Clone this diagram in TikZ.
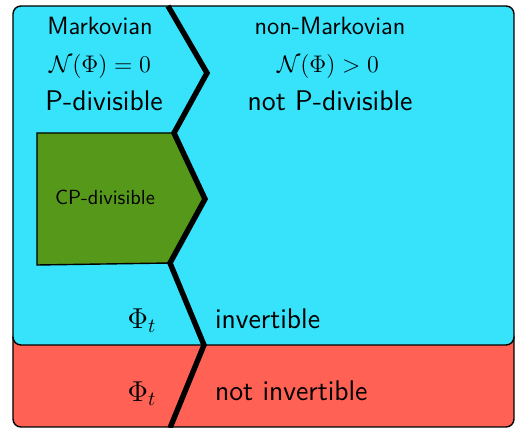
\documentclass[tikz,border=0pt]{standalone}
\usepackage{amsmath,amssymb}
\usepackage{tikz}
\usetikzlibrary{calc}

\definecolor{cyanfill}{RGB}{54,227,250}
\definecolor{redfill}{RGB}{255,97,84}
\definecolor{greenfill}{RGB}{85,152,26}

\begin{document}
\begin{tikzpicture}[x=0.5pt,y=-0.5pt,
    small/.style={font=\sffamily\fontsize{12.5}{14}\selectfont},
    big/.style={font=\sffamily\fontsize{14.2}{16}\selectfont},
    mth/.style={font=\fontsize{13.2}{15}\selectfont},
    border/.style={draw=black,line width=0.7pt}]
  \useasboundingbox (0,0) rectangle (516,428);
  % regions
  \draw[border,fill=redfill,rounded corners=4pt] (13,330) rectangle (514,427);
  \draw[border,fill=cyanfill,rounded corners=4pt] (13,6) rectangle (514,345);
  \draw[border,fill=greenfill] (37,133) -- (174,133) -- (205,199) -- (170,263) -- (37,265) -- cycle;
  % dividing line
  \coordinate (z0) at (168,6);
  \coordinate (z1) at (207,73);
  \coordinate (z2) at (174,133);
  \coordinate (z3) at (205,199);
  \coordinate (z4) at (170,263);
  \coordinate (z5) at (204,345);
  \coordinate (z6) at (170,428);
  \draw[line width=2.7pt,line join=miter] (z0) -- (z1) -- (z2) -- (z3) -- (z4) -- (z5) -- (z6);
  % labels
  \node[small] (markov) at (100,26) {Markovian};
  \node[mth] (nzero) at (100,67) {$\mathcal{N}(\Phi)=0$};
  \node[big] (pdiv) at (104,101) {P-divisible};
  \node[small] (nonmarkov) at (330,26) {non-Markovian};
  \node[mth] (npos) at (328,67) {$\mathcal{N}(\Phi)>0$};
  \node[big] (notpdiv) at (330,101) {not P-divisible};
  \node[font=\sffamily\fontsize{10.2}{12}\selectfont] (cpdiv) at (105,197) {CP-divisible};
  \node[font=\fontsize{14}{16}\selectfont] (phiinv) at (142,321) {$\Phi_t$};
  \node[big,anchor=west] (inv) at (208,319) {invertible};
  \node[font=\fontsize{14}{16}\selectfont] (phinot) at (142,394) {$\Phi_t$};
  \node[big,anchor=west] (notinv) at (208,391) {not invertible};
\end{tikzpicture}
\end{document}
